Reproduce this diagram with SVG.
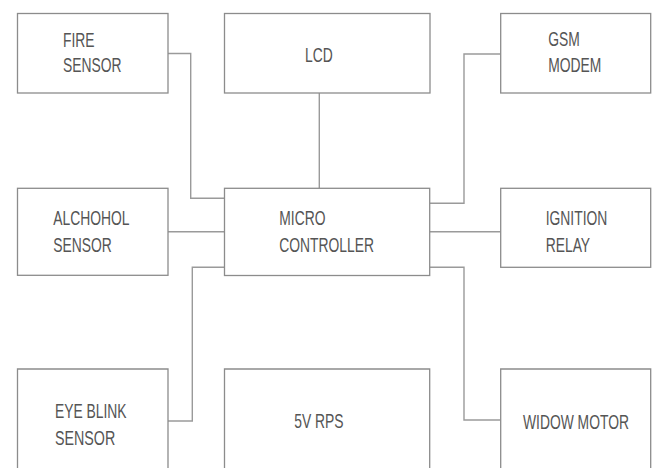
<svg xmlns="http://www.w3.org/2000/svg" width="654" height="468" viewBox="0 0 654 468">
<style>
rect,.box{fill:#fff;stroke:#8c8c8c;stroke-width:1.3}
#connectors path{fill:none;stroke:#9a9a9a;stroke-width:1.4}
text{font-family:"Liberation Sans",Arial,sans-serif;font-size:21px;fill:#555}
</style>
<rect x="0" y="0" width="654" height="468" style="stroke:none"/>
<g id="connectors">
<path d="M168,53.5 H190.7 V198.3 H224.5"/>
<path d="M319.3,93 V188.3"/>
<path d="M500.7,54 H464 V203.3 H429.7"/>
<path d="M168,231.7 H224.5"/>
<path d="M429.7,231.7 H500.7"/>
<path d="M224.5,267.3 H192.3 V421 H168"/>
<path d="M429.7,267.3 H464 V420 H500.7"/>
</g>
<g id="fire"><rect x="17.5" y="13.5" width="150.5" height="79.5"/>
<text transform="translate(63,46.7) scale(0.66,1)">FIRE</text>
<text transform="translate(63,71.7) scale(0.66,1)">SENSOR</text></g>
<g id="lcd"><rect x="224.5" y="13.5" width="205.5" height="79.5"/>
<text transform="translate(305,61.7) scale(0.66,1)">LCD</text></g>
<g id="gsm"><rect x="500.7" y="13.5" width="150" height="79.5"/>
<text transform="translate(548.3,45.7) scale(0.66,1)">GSM</text>
<text transform="translate(548.3,71.7) scale(0.66,1)">MODEM</text></g>
<g id="alchohol"><rect x="17.5" y="188.3" width="150.5" height="87"/>
<text transform="translate(53.3,225) scale(0.66,1)">ALCHOHOL</text>
<text transform="translate(53.3,252.3) scale(0.66,1)">SENSOR</text></g>
<g id="micro"><rect x="224.5" y="188.3" width="205.2" height="87.2"/>
<text transform="translate(279.3,225) scale(0.66,1)">MICRO</text>
<text transform="translate(279.3,252.3) scale(0.66,1)">CONTROLLER</text></g>
<g id="ignition"><rect x="500.7" y="188.3" width="150" height="79"/>
<text transform="translate(545.7,225) scale(0.66,1)">IGNITION</text>
<text transform="translate(545.7,252.3) scale(0.66,1)">RELAY</text></g>
<g id="eyeblink"><path class="box" d="M17.5,468 V369 H168 V468"/>
<text transform="translate(55,418.3) scale(0.66,1)">EYE BLINK</text>
<text transform="translate(55,445) scale(0.68,1)">SENSOR</text></g>
<g id="rps"><path class="box" d="M224.5,468 V369 H429.7 V468"/>
<text transform="translate(294.3,428.3) scale(0.66,1)">5V RPS</text></g>
<g id="motor"><path class="box" d="M500.7,468 V369 H650.7 V468"/>
<text transform="translate(523,429.3) scale(0.66,1)">WIDOW MOTOR</text></g>
</svg>
